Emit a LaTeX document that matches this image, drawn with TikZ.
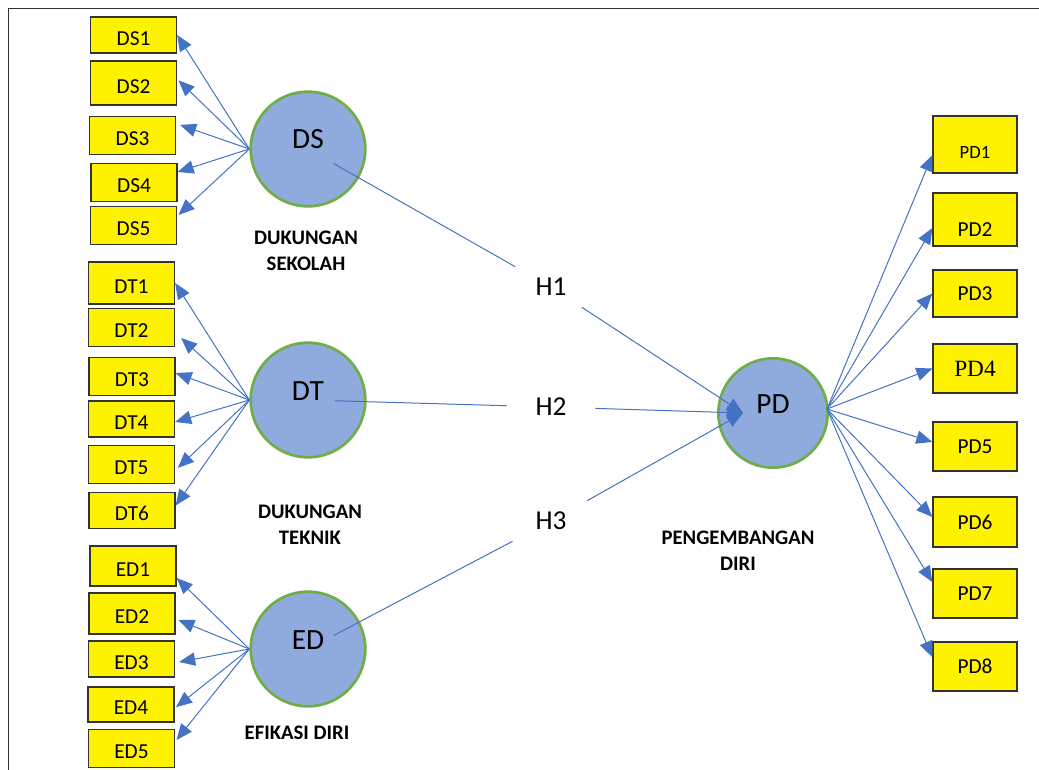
\documentclass[tikz,border=0pt]{standalone}
\usepackage{fontspec}
\setmainfont{Carlito}
\newfontfamily\serifone{Liberation Serif}
\usetikzlibrary{arrows.meta}
\definecolor{latblue}{HTML}{8FAADC}
\definecolor{latgreen}{HTML}{70AD47}
\definecolor{linkblue}{HTML}{4472C4}
\definecolor{boxline}{HTML}{333333}
\tikzset{
indicator/.style={rectangle,draw=boxline,fill=yellow,line width=1pt,minimum width=64.5pt,minimum height=28.5pt,inner sep=0pt,font=\fontsize{16}{19}\selectfont,text height=15.5pt,text depth=0pt},
latent/.style={circle,draw=latgreen,fill=latblue,line width=2pt,minimum size=86pt,inner sep=0pt,font=\fontsize{22}{26}\selectfont,text height=14pt,text depth=14pt},
latname/.style={align=center,font=\bfseries\fontsize{15.5}{19.5}\selectfont},
hyp/.style={minimum width=66pt,minimum height=30pt,inner sep=0pt,font=\fontsize{20.5}{24}\selectfont},
load/.style={draw=linkblue,line width=0.75pt,-{Triangle[length=12pt,width=10pt]}},
hyppath/.style={draw=linkblue,line width=0.75pt},
}
\begin{document}
\begin{tikzpicture}[x=0.75pt,y=-0.75pt]
\useasboundingbox (0,0) rectangle (1039,770);
\draw[boxline,line width=1pt] (8.5,770) -- (8.5,8.5) -- (1039,8.5);

\node[latent] (DS) at (308,149) {DS};
\node[latent] (DT) at (308,400) {DT};
\node[latent] (ED) at (308,649) {ED};
\node[latent,minimum size=82pt] (PD) at (773,413) {PD};

\node[latname] (lds) at (306,251) {DUKUNGAN\\SEKOLAH};
\node[latname] (ldt) at (310,525) {DUKUNGAN\\TEKNIK};
\node[latname] (led) at (297,733) {EFIKASI DIRI};
\node[latname] (lpd) at (738,551) {PENGEMBANGAN\\DIRI};

\node[indicator,minimum height=27pt] (DS1) at (133.5,35) {DS1};
\node[indicator,minimum height=33pt] (DS2) at (133.5,83) {DS2};
\node[indicator] (DS3) at (132.5,135.5) {DS3};
\node[indicator] (DS4) at (134,182.5) {DS4};
\node[indicator] (DS5) at (133.5,225.5) {DS5};

\node[indicator,minimum height=31.5pt] (DT1) at (131.5,283) {DT1};
\node[indicator] (DT2) at (131.5,327.5) {DT2};
\node[indicator] (DT3) at (132,376.5) {DT3};
\node[indicator,minimum height=27pt] (DT4) at (131.5,419) {DT4};
\node[indicator] (DT5) at (131.5,464.5) {DT5};
\node[indicator,minimum height=27pt] (DT6) at (132,510.5) {DT6};

\node[indicator,minimum height=30pt] (ED1) at (133,566) {ED1};
\node[indicator,minimum height=30.75pt] (ED2) at (132,613.5) {ED2};
\node[indicator,minimum height=27pt] (ED3) at (131.5,659) {ED3};
\node[indicator,minimum height=26.25pt] (ED4) at (131,704.5) {ED4};
\node[indicator] (ED5) at (131.5,748.5) {ED5};

\node[indicator,minimum width=63pt,minimum height=42.75pt,font=\fontsize{14}{17}\selectfont,text height=21pt] (PD1) at (975,144.5) {PD1};
\node[indicator,minimum width=63pt,minimum height=39.75pt,text height=25pt] (PD2) at (975,219.5) {PD2};
\node[indicator,minimum width=63pt,minimum height=35.25pt,text height=10.5pt] (PD3) at (975,293.5) {PD3};
\node[indicator,minimum width=63pt,minimum height=36.75pt,font=\serifone\fontsize{17.5}{21}\selectfont,text height=11.5pt] (PD4) at (975,368.5) {PD4};
\node[indicator,minimum width=63pt,minimum height=36.75pt,text height=10.5pt] (PD5) at (975,446.5) {PD5};
\node[indicator,minimum width=63pt,minimum height=37.5pt,text height=10.5pt] (PD6) at (975,522) {PD6};
\node[indicator,minimum width=63pt,minimum height=36.75pt,text height=10.5pt] (PD7) at (975,593.5) {PD7};
\node[indicator,minimum width=63pt,minimum height=36.75pt,text height=10.5pt] (PD8) at (975,666.5) {PD8};

\node[hyp] (H1) at (551,287) {H1};
\node[hyp] (H2) at (551,407) {H2};
\node[hyp] (H3) at (551,521) {H3};
\coordinate (pdin) at (743,413);
\coordinate (pdout) at (827,409);

\draw[hyppath,shorten <=22pt] (DS.center) -- (H1);
\draw[hyppath,shorten <=20pt] (DT.center) -- (H2);
\draw[hyppath,shorten <=22pt] (ED.center) -- (H3);
\draw[load] (H1) -- (pdin);
\draw[load] (H2) -- (pdin);
\draw[load] (H3) -- (pdin);

\draw[load] (DS.west) -- (DS1.east);
\draw[load] (DS.west) -- ([xshift=1pt,yshift=2pt]DS2.east);
\draw[load] (DS.west) -- ([xshift=3pt,yshift=7.9pt]DS3.east);
\draw[load] (DS.west) -- ([yshift=7.9pt]DS4.east);
\draw[load] (DS.west) -- ([xshift=1pt,yshift=7.9pt]DS5.east);

\draw[load] (DT.west) -- (DT1.east);
\draw[load] (DT.west) -- ([xshift=4.5pt,yshift=-7.9pt]DT2.east);
\draw[load] (DT.west) -- ([yshift=2.6pt]DT3.east);
\draw[load] (DT.west) -- ([yshift=-2.25pt]DT4.east);
\draw[load] (DT.west) -- ([xshift=2pt,yshift=-2.6pt]DT5.east);
\draw[load] (DT.west) -- ([yshift=3.75pt]DT6.east);

\draw[load] (ED.west) -- ([yshift=-9pt]ED1.east);
\draw[load] (ED.west) -- ([xshift=2pt,yshift=-4.9pt]ED2.east);
\draw[load] (ED.west) -- ([xshift=3pt,yshift=-2.25pt]ED3.east);
\draw[load] (ED.west) -- ([xshift=1pt,yshift=-2pt]ED4.east);
\draw[load] (ED.west) -- ([xshift=1pt,yshift=6.4pt]ED5.east);

\draw[load] (pdout) -- ([yshift=-7.9pt]PD1.west);
\draw[load] (pdout) -- ([yshift=-6.4pt]PD2.west);
\draw[load] (pdout) -- (PD3.west);
\draw[load] (pdout) -- (PD4.west);
\draw[load] (pdout) -- ([yshift=3.4pt]PD5.west);
\draw[load] (pdout) -- ([yshift=3.75pt]PD6.west);
\draw[load] (pdout) -- ([yshift=8.6pt]PD7.west);
\draw[load] (pdout) -- ([yshift=7pt]PD8.west);
\end{tikzpicture}
\end{document}
